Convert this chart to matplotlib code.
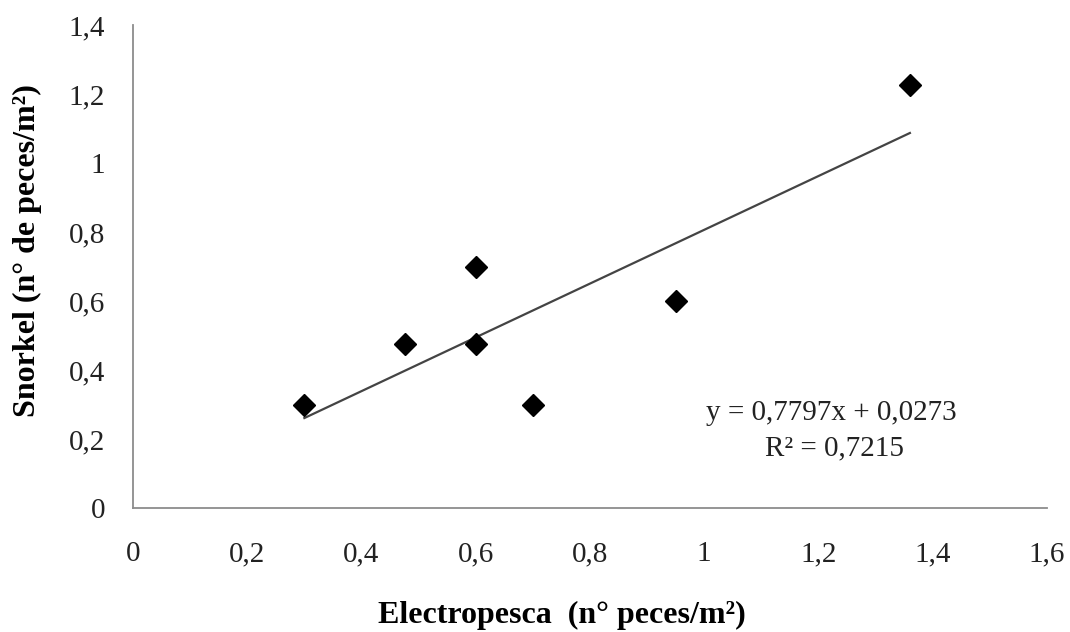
import matplotlib
matplotlib.use('Agg')
import matplotlib.pyplot as plt
import numpy as np

# datos
electropesca = [0.30, 0.476, 0.60, 0.60, 0.70, 0.95, 1.36]
snorkel = [0.30, 0.476, 0.70, 0.476, 0.30, 0.60, 1.226]
pendiente = 0.7797
intercepto = 0.0273
r2 = 0.7215
x_ticks = [0, 0.2, 0.4, 0.6, 0.8, 1.0, 1.2, 1.4, 1.6]
y_ticks = [0, 0.2, 0.4, 0.6, 0.8, 1.0, 1.2, 1.4]

plt.rcParams['font.family'] = ['Liberation Serif', 'DejaVu Serif']

def etiqueta(v):
    s = ('%.1f' % v).rstrip('0').rstrip('.')
    return s.replace('.', ',')

fig = plt.figure(figsize=(10.7, 6.32), dpi=100)
ax = fig.add_axes([0.1243, 0.196, 0.8542, 0.764])

ax.plot(electropesca, snorkel, linestyle='none', marker='D', markersize=11,
        color='black', zorder=3)

xl = np.array([min(electropesca), max(electropesca)])
ax.plot(xl, pendiente * xl + intercepto, color='#444444', lw=1.6, zorder=2)

ax.set_xlim(0, 1.6)
ax.set_ylim(0, 1.4)
ax.set_xticks(x_ticks)
ax.set_yticks(y_ticks)
ax.set_xticklabels([etiqueta(v) for v in x_ticks])
ax.set_yticklabels([etiqueta(v) for v in y_ticks])
ax.tick_params(length=0, labelsize=21, colors='#222222')
ax.tick_params(axis='x', pad=24)
ax.tick_params(axis='y', pad=20)

for s in ['top', 'right']:
    ax.spines[s].set_visible(False)
for s in ['left', 'bottom']:
    ax.spines[s].set_color('#8c8c8c')
    ax.spines[s].set_linewidth(1.3)

# ecuacion de la tendencia
ax.text(1.222, 0.275, 'y = 0,7797x + 0,0273', fontsize=21, ha='center', va='center',
        color='#222222')
ax.text(1.228, 0.174, 'R² = %s' % str(r2).replace('.', ','), fontsize=21,
        ha='center', va='center', color='#222222')

fig.text(562 / 1070, 1 - 615 / 632, 'Electropesca  (n° peces/m²)', fontsize=23,
         fontweight='bold', ha='center', va='center')
fig.text(27 / 1070, 1 - 251 / 632, 'Snorkel (n° de peces/m²)', fontsize=23,
         fontweight='bold', ha='center', va='center', rotation=90)

fig.savefig('out.png', dpi=100, facecolor='white')
